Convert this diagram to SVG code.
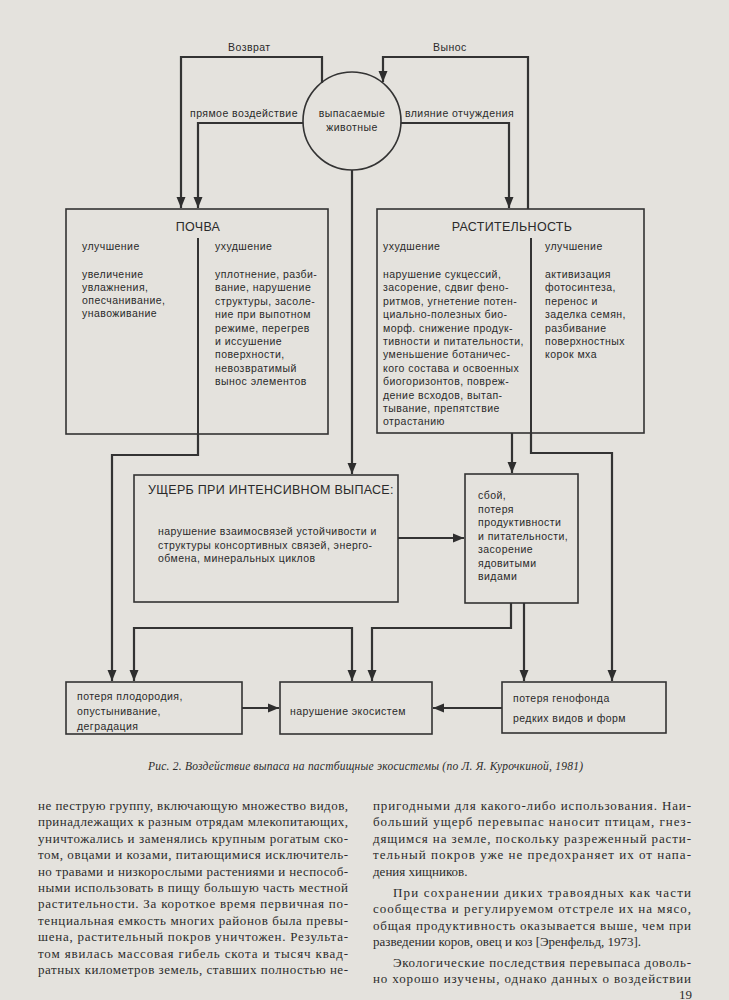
<svg xmlns="http://www.w3.org/2000/svg" width="729" height="1000" viewBox="0 0 729 1000">
<defs>
<marker id="ah" markerUnits="userSpaceOnUse" markerWidth="12" markerHeight="12" viewBox="0 0 12 12" refX="11" refY="6" orient="auto-start-reverse">
<path d="M0,1.5 L11,6 L0,10.5 Z" fill="#2e2e2e"/>
</marker>
<style>
.bg{fill:#e4e2dd}
.box{fill:none;stroke:#333;stroke-width:1.6}
.div{fill:none;stroke:#333;stroke-width:2}
.arr{fill:none;stroke:#333;stroke-width:2.2;marker-end:url(#ah)}
.t{font-family:"Liberation Sans",Arial,sans-serif;font-size:10.5px;letter-spacing:0.45px;fill:#2a2a2a}
.h{font-family:"Liberation Sans",Arial,sans-serif;font-size:12.5px;letter-spacing:0.3px;fill:#2a2a2a}
.b{font-family:"Liberation Serif","Times New Roman",serif;font-size:13px;fill:#2b2b2b}
.cap{font-family:"Liberation Serif","Times New Roman",serif;font-size:11.5px;font-style:italic;fill:#2b2b2b}
</style>
</defs>
<rect class="bg" x="0" y="0" width="729" height="1000"/>

<g id="connectors">
<path class="arr" d="M322,83 V57 H181 V208"/>
<path class="arr" d="M303,123 H198 V208"/>
<path class="arr" d="M528,209 V57 H383 V82"/>
<path class="arr" d="M401,123 H509 V208"/>
<path class="arr" d="M352,170 V474"/>
<path class="arr" d="M198,434 V455 H112 V681"/>
<path class="arr" d="M512,433 V473"/>
<path class="arr" d="M531,433 V453 H612 V681"/>
<path class="arr" d="M398,538 H464"/>
<path class="arr" style="marker-start:url(#ah)" d="M134,681 V628 H352 V681"/>
<path class="arr" d="M511,603 V628 H372 V681"/>
<path class="arr" d="M524,603 V681"/>
<path class="arr" d="M242,708 H279"/>
<path class="arr" d="M502,708 H433"/>
</g>

<g id="labels">
<text class="t" x="228" y="51">Возврат</text>
<text class="t" x="433" y="51">Вынос</text>
<text class="t" x="190" y="117">прямое воздействие</text>
<text class="t" x="405" y="117">влияние отчуждения</text>
</g>

<g id="animals">
<circle cx="352" cy="121" r="49" fill="none" stroke="#333" stroke-width="1.6"/>
<text class="t" x="352" y="117" text-anchor="middle">выпасаемые</text>
<text class="t" x="352" y="131" text-anchor="middle">животные</text>
</g>

<g id="soil">
<rect class="box" x="66" y="209" width="262" height="225"/>
<line class="div" x1="198" y1="238" x2="198" y2="434"/>
<text class="h" x="198" y="231" text-anchor="middle">ПОЧВА</text>
<text class="t" x="82" y="250">улучшение</text>
<text class="t" x="215" y="250">ухудшение</text>
<text class="t" x="82" y="278">увеличение</text>
<text class="t" x="82" y="291">увлажнения,</text>
<text class="t" x="82" y="304">опесчанивание,</text>
<text class="t" x="82" y="317">унавоживание</text>
<text class="t" x="215" y="278">уплотнение, разби-</text>
<text class="t" x="215" y="291.4">вание, нарушение</text>
<text class="t" x="215" y="304.8">структуры, засоле-</text>
<text class="t" x="215" y="318.2">ние при выпотном</text>
<text class="t" x="215" y="331.6">режиме, перегрев</text>
<text class="t" x="215" y="345">и иссушение</text>
<text class="t" x="215" y="358.4">поверхности,</text>
<text class="t" x="215" y="371.8">невозвратимый</text>
<text class="t" x="215" y="385.2">вынос элементов</text>
</g>

<g id="vegetation">
<rect class="box" x="377" y="209" width="267" height="224"/>
<line class="div" x1="531" y1="238" x2="531" y2="433"/>
<text class="h" x="512" y="231" text-anchor="middle">РАСТИТЕЛЬНОСТЬ</text>
<text class="t" x="383" y="250">ухудшение</text>
<text class="t" x="545" y="250">улучшение</text>
<text class="t" x="383" y="278">нарушение сукцессий,</text>
<text class="t" x="383" y="291.4">засорение, сдвиг  фено-</text>
<text class="t" x="383" y="304.8">ритмов, угнетение потен-</text>
<text class="t" x="383" y="318.2">циально-полезных био-</text>
<text class="t" x="383" y="331.6">морф. снижение продук-</text>
<text class="t" x="383" y="345">тивности и питательности,</text>
<text class="t" x="383" y="358.4">уменьшение  ботаничес-</text>
<text class="t" x="383" y="371.8">кого состава и освоенных</text>
<text class="t" x="383" y="385.2">биогоризонтов, повреж-</text>
<text class="t" x="383" y="398.6">дение всходов, вытап-</text>
<text class="t" x="383" y="412">тывание, препятствие</text>
<text class="t" x="383" y="425.4">отрастанию</text>
<text class="t" x="545" y="278">активизация</text>
<text class="t" x="545" y="291.4">фотосинтеза,</text>
<text class="t" x="545" y="304.8">перенос и</text>
<text class="t" x="545" y="318.2">заделка семян,</text>
<text class="t" x="545" y="331.6">разбивание</text>
<text class="t" x="545" y="345">поверхностных</text>
<text class="t" x="545" y="358.4">корок мха</text>
</g>

<g id="damage">
<rect class="box" x="134" y="475" width="264" height="127"/>
<text class="h" x="148" y="494">УЩЕРБ ПРИ ИНТЕНСИВНОМ ВЫПАСЕ:</text>
<text class="t" x="158" y="535">нарушение взаимосвязей устойчивости и</text>
<text class="t" x="158" y="548.5">структуры консортивных связей, энерго-</text>
<text class="t" x="158" y="562">обмена, минеральных циклов</text>
</g>

<g id="failure">
<rect class="box" x="465" y="474" width="113" height="129"/>
<text class="t" x="478" y="499">сбой,</text>
<text class="t" x="478" y="512.5">потеря</text>
<text class="t" x="478" y="526">продуктивности</text>
<text class="t" x="478" y="539.5">и питательности,</text>
<text class="t" x="478" y="553">засорение</text>
<text class="t" x="478" y="566.5">ядовитыми</text>
<text class="t" x="478" y="580">видами</text>
</g>

<g id="fertility">
<rect class="box" x="66" y="682" width="176" height="52"/>
<text class="t" x="77" y="700">потеря плодородия,</text>
<text class="t" x="77" y="715">опустынивание,</text>
<text class="t" x="77" y="730">деградация</text>
</g>

<g id="ecosystem">
<rect class="box" x="280" y="682" width="152" height="52"/>
<text class="t" x="290" y="715">нарушение экосистем</text>
</g>

<g id="genepool">
<rect class="box" x="502" y="682" width="164" height="51"/>
<text class="t" x="513" y="702">потеря генофонда</text>
<text class="t" x="513" y="722">редких видов и форм</text>
</g>

<text class="cap" x="148" y="770" textLength="435" lengthAdjust="spacing">Рис. 2. Воздействие выпаса на пастбищные экосистемы (по Л. Я. Курочкиной, 1981)</text>

<g id="body-left">
<text class="b" x="38" y="810" textLength="310" lengthAdjust="spacing">не пеструю группу, включающую множество видов,</text>
<text class="b" x="38" y="826.4" textLength="310" lengthAdjust="spacing">принадлежащих к разным отрядам млекопитающих,</text>
<text class="b" x="38" y="842.8" textLength="310" lengthAdjust="spacing">уничтожались и заменялись крупным рогатым ско-</text>
<text class="b" x="38" y="859.2" textLength="310" lengthAdjust="spacing">том, овцами и козами, питающимися исключитель-</text>
<text class="b" x="38" y="875.6" textLength="310" lengthAdjust="spacing">но травами и низкорослыми растениями и неспособ-</text>
<text class="b" x="38" y="892" textLength="310" lengthAdjust="spacing">ными использовать в пищу большую часть местной</text>
<text class="b" x="38" y="908.4" textLength="310" lengthAdjust="spacing">растительности. За короткое время первичная по-</text>
<text class="b" x="38" y="924.8" textLength="310" lengthAdjust="spacing">тенциальная емкость многих районов была превы-</text>
<text class="b" x="38" y="941.2" textLength="310" lengthAdjust="spacing">шена, растительный покров уничтожен. Результа-</text>
<text class="b" x="38" y="957.6" textLength="310" lengthAdjust="spacing">том явилась массовая гибель скота и тысяч квад-</text>
<text class="b" x="38" y="974" textLength="310" lengthAdjust="spacing">ратных километров земель, ставших полностью не-</text>
</g>

<g id="body-right">
<text class="b" x="373" y="810" textLength="318" lengthAdjust="spacing">пригодными для какого-либо использования. Наи-</text>
<text class="b" x="373" y="826.4" textLength="318" lengthAdjust="spacing">больший ущерб перевыпас наносит птицам, гнез-</text>
<text class="b" x="373" y="842.8" textLength="318" lengthAdjust="spacing">дящимся на земле, поскольку разреженный расти-</text>
<text class="b" x="373" y="859.2" textLength="318" lengthAdjust="spacing">тельный покров уже не предохраняет их от напа-</text>
<text class="b" x="373" y="875.6">дения хищников.</text>
<text class="b" x="393" y="897" textLength="298" lengthAdjust="spacing">При сохранении диких травоядных как части</text>
<text class="b" x="373" y="913.4" textLength="318" lengthAdjust="spacing">сообщества и регулируемом отстреле их на мясо,</text>
<text class="b" x="373" y="929.8" textLength="318" lengthAdjust="spacing">общая продуктивность оказывается выше, чем при</text>
<text class="b" x="373" y="946.2">разведении коров, овец и коз [Эренфельд, 1973].</text>
<text class="b" x="393" y="967" textLength="298" lengthAdjust="spacing">Экологические последствия перевыпаса доволь-</text>
<text class="b" x="373" y="983" textLength="318" lengthAdjust="spacing">но хорошо изучены, однако данных о воздействии</text>
</g>

<text class="b" x="692" y="999" text-anchor="end">19</text>
</svg>
